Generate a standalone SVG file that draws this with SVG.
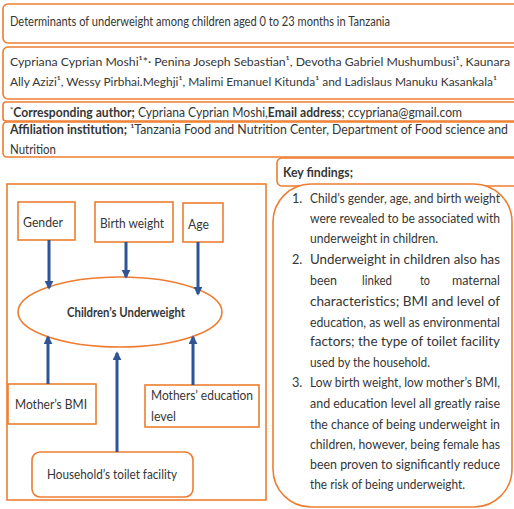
<svg xmlns="http://www.w3.org/2000/svg" width="514" height="509" viewBox="0 0 514 509">
<defs>
<style>
.box{fill:#fff;stroke:#ED7D31;stroke-width:1.6}
.t{font-family:Lato,"Open Sans","Liberation Sans",sans-serif;fill:#363636}
.h{font-size:12.5px}
.a{font-size:12px}
.d{font-size:13.5px}
.f{font-size:12.7px}
.b{font-weight:bold}
.ar{stroke:#2F5597;stroke-width:3;fill:none;marker-end:url(#ah)}
</style>
<marker id="ah" viewBox="0 0 10 10" refX="8" refY="5" markerWidth="3" markerHeight="3" orient="auto">
<path d="M0,0 L10,5 L0,10 z" fill="#2F5597"/>
</marker>
</defs>
<rect width="514" height="509" fill="#fff"/>

<g id="title">
<rect class="box" x="3" y="4" width="520" height="39" rx="5"/>
<text class="t h" x="10" y="26" textLength="380" lengthAdjust="spacingAndGlyphs">Determinants of underweight among children aged 0 to 23 months in Tanzania</text>
</g>

<g id="authors">
<rect class="box" x="3" y="47" width="520" height="52" rx="5"/>
<text class="t a" x="10" y="66" textLength="500" lengthAdjust="spacingAndGlyphs">Cypriana Cyprian Moshi¹*· Penina Joseph Sebastian¹, Devotha Gabriel Mushumbusi¹, Kaunara</text>
<text class="t a" x="10" y="86" textLength="487" lengthAdjust="spacingAndGlyphs">Ally Azizi¹, Wessy Pirbhai.Meghji¹, Malimi Emanuel Kitunda¹ and Ladislaus Manuku Kasankala¹</text>
</g>

<g id="corresponding">
<rect class="box" x="3" y="102" width="520" height="19" rx="3"/>
<text class="t h" x="10" y="117" textLength="452" lengthAdjust="spacingAndGlyphs"><tspan font-size="8" baseline-shift="4">*</tspan><tspan class="b">Corresponding author;</tspan> Cypriana Cyprian Moshi,<tspan class="b">Email address</tspan>; ccypriana@gmail.com</text>
</g>

<g id="affiliation">
<rect class="box" x="3" y="122" width="520" height="35" rx="4"/>
<text class="t h" x="10" y="134" textLength="498" lengthAdjust="spacingAndGlyphs"><tspan class="b">Affiliation institution;</tspan> ¹Tanzania Food and Nutrition Center, Department of Food science and</text>
<text class="t h" x="10" y="154" textLength="46" lengthAdjust="spacingAndGlyphs">Nutrition</text>
</g>

<g id="key-findings-title">
<rect class="box" x="277" y="158" width="250" height="28" rx="5"/>
<text class="t h b" x="283" y="177" textLength="70" lengthAdjust="spacingAndGlyphs">Key findings;</text>
</g>

<g id="key-findings">
<rect class="box" x="273" y="184" width="239" height="323" rx="38" fill="none"/>
<g class="t f">
<text x="292" y="203">1.</text>
<text x="310" y="203" textLength="190" lengthAdjust="spacingAndGlyphs">Child’s gender, age, and birth weight</text>
<text x="310" y="223" textLength="190" lengthAdjust="spacingAndGlyphs">were revealed to be associated with</text>
<text x="310" y="243" textLength="128" lengthAdjust="spacingAndGlyphs">underweight in children.</text>
<text x="292" y="264">2.</text>
<text x="310" y="264" textLength="190" lengthAdjust="spacingAndGlyphs">Underweight in children also has</text>
<text x="310" y="285" textLength="27" lengthAdjust="spacingAndGlyphs">been</text>
<text x="362" y="285" textLength="30" lengthAdjust="spacingAndGlyphs">linked</text>
<text x="420" y="285" textLength="10" lengthAdjust="spacingAndGlyphs">to</text>
<text x="452" y="285" textLength="48" lengthAdjust="spacingAndGlyphs">maternal</text>
<text x="310" y="306" textLength="190" lengthAdjust="spacingAndGlyphs">characteristics; BMI and level of</text>
<text x="310" y="327" textLength="190" lengthAdjust="spacingAndGlyphs">education, as well as environmental</text>
<text x="310" y="346" textLength="190" lengthAdjust="spacingAndGlyphs">factors; the type of toilet facility</text>
<text x="310" y="367" textLength="120" lengthAdjust="spacingAndGlyphs">used by the household.</text>
<text x="292" y="387">3.</text>
<text x="310" y="387" textLength="190" lengthAdjust="spacingAndGlyphs">Low birth weight, low mother’s BMI,</text>
<text x="310" y="408" textLength="190" lengthAdjust="spacingAndGlyphs">and education level all greatly raise</text>
<text x="310" y="429" textLength="190" lengthAdjust="spacingAndGlyphs">the chance of being underweight in</text>
<text x="310" y="449" textLength="190" lengthAdjust="spacingAndGlyphs">children, however, being female has</text>
<text x="310" y="469" textLength="190" lengthAdjust="spacingAndGlyphs">been proven to significantly reduce</text>
<text x="310" y="489" textLength="155" lengthAdjust="spacingAndGlyphs">the risk of being underweight.</text>
</g>
</g>

<g id="framework">
<rect class="box" x="7" y="184" width="259" height="316" fill="none"/>
</g>

<g id="gender">
<rect class="box" x="18" y="202" width="57" height="38"/>
<text class="t d" x="23" y="227" textLength="40" lengthAdjust="spacingAndGlyphs">Gender</text>
</g>
<g id="birth-weight">
<rect class="box" x="95" y="202" width="78" height="40"/>
<text class="t d" x="100" y="228" textLength="64" lengthAdjust="spacingAndGlyphs">Birth weight</text>
</g>
<g id="age">
<rect class="box" x="183" y="203" width="40" height="39"/>
<text class="t d" x="188" y="229" textLength="21" lengthAdjust="spacingAndGlyphs">Age</text>
</g>
<g id="underweight">
<ellipse class="box" cx="120" cy="312" rx="102" ry="35"/>
<text class="t d b" x="67" y="317" textLength="118" lengthAdjust="spacingAndGlyphs">Children’s Underweight</text>
</g>
<g id="mothers-bmi">
<rect class="box" x="8" y="384" width="88" height="40"/>
<text class="t d" x="15" y="409" textLength="72" lengthAdjust="spacingAndGlyphs">Mother’s BMI</text>
</g>
<g id="mothers-education">
<rect class="box" x="145" y="385" width="114" height="42"/>
<text class="t d" x="151" y="400" textLength="102" lengthAdjust="spacingAndGlyphs">Mothers’ education</text>
<text class="t d" x="151" y="421" textLength="25" lengthAdjust="spacingAndGlyphs">level</text>
</g>
<g id="toilet">
<rect class="box" x="32" y="452" width="161" height="45" rx="8"/>
<text class="t d" x="47" y="479" textLength="130" lengthAdjust="spacingAndGlyphs">Household’s toilet facility</text>
</g>

<g id="connectors">
<line class="ar" x1="49" y1="240" x2="49" y2="288"/>
<line class="ar" x1="126" y1="242" x2="126" y2="277"/>
<line class="ar" x1="198" y1="242" x2="198" y2="294"/>
<line class="ar" x1="48" y1="384" x2="48" y2="337"/>
<line class="ar" x1="193" y1="385" x2="193" y2="337"/>
<line class="ar" x1="117" y1="452" x2="117" y2="353"/>
</g>
</svg>
